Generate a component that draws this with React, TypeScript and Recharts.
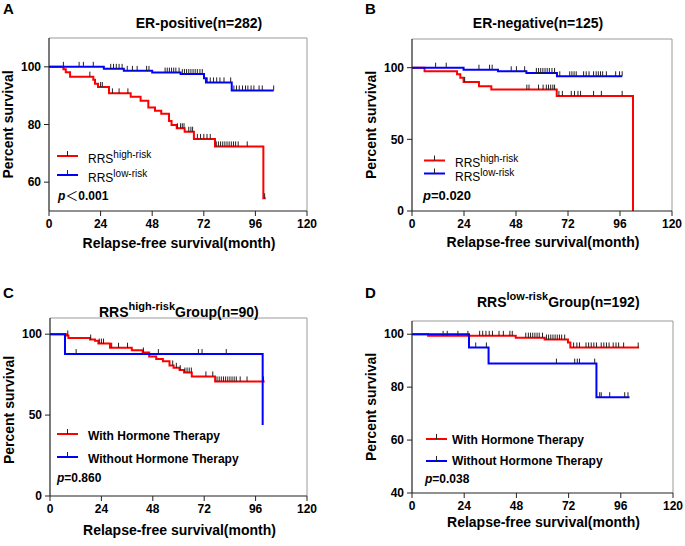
import React from 'react';
import { LineChart, Line, XAxis, YAxis, ReferenceLine, Label } from 'recharts';

type Pt = [number, number];

const X_TICKS = [0, 24, 48, 72, 96, 120];

// ---------- Panel A: ER-positive ----------
const aHighSteps: Pt[] = [[0, 100], [6.7, 99.2], [7.8, 98.1], [9.8, 96.6], [20.6, 95.5], [21.4, 94.1], [22.8, 93.0], [27.9, 90.8], [38, 89.6], [42.6, 88.2], [46.2, 85.9], [49.3, 84.8], [52.2, 83.7], [55.8, 81.2], [57, 79.8], [59.4, 78.7], [63.1, 77.5], [67.4, 75.0], [77.2, 72.4], [99.7, 54.4], [100.8, 54.4]];
const aHighCensor: number[] = [19, 24, 24.8, 29.5, 32.6, 36.7, 59.7, 61.2, 62, 62.8, 65, 66, 66.8, 69, 70.5, 72, 73.5, 75, 77.8, 78.8, 79.8, 80.8, 81.8, 82.8, 83.8, 84.8, 85.8, 86.8, 88, 92.2, 100.3];
const aLowSteps: Pt[] = [[0, 100], [25.5, 99.3], [34.8, 98.6], [48, 98.0], [61.2, 97.5], [72.1, 96.0], [73, 94.6], [85, 91.8], [104.5, 91.8]];
const aLowCensor: number[] = [6.7, 14, 16, 20.6, 28.7, 30, 31.3, 32.6, 34, 36.4, 38.8, 41, 45.4, 46.5, 54, 55, 56, 57, 58, 59, 60.5, 62, 63, 64, 65, 66, 67, 68, 69, 70.2, 71.3, 73.6, 75, 76.5, 78, 79.5, 81.4, 84.5, 86, 87.2, 88.5, 90, 91.4, 92.5, 94, 95.3, 97.7, 99.2, 104.5];
const aYTicks = [60, 80, 100];

// ---------- Panel B: ER-negative ----------
const bHighSteps: Pt[] = [[0, 100], [5.8, 97.5], [20.8, 95.4], [22.3, 93], [23.8, 90], [30.9, 87], [36.6, 84.7], [66.8, 80.3], [102, 0]];
const bHighCensor: number[] = [24.3, 53, 54, 58.4, 60.5, 62, 63, 64, 65, 65.8, 67.8, 69.4, 73.5, 75, 76.6, 77.8, 83.8, 87.4, 97];
const bLowSteps: Pt[] = [[0, 100], [23.8, 98.6], [39.7, 97.5], [52.8, 96.3], [66.9, 94], [97, 94]];
const bLowCensor: number[] = [10.9, 15.8, 30.9, 35.8, 37, 45.8, 48.2, 52, 57.4, 58.4, 59.4, 60.4, 61.4, 62.4, 63.4, 64.6, 65.8, 68.2, 72.8, 73.8, 74.8, 75.8, 79.2, 80.4, 81.7, 83.8, 85, 86, 87, 88, 89.7, 94, 95.8, 97];
const bYTicks = [0, 50, 100];

// ---------- Panel C: RRS high-risk group ----------
const cWithSteps: Pt[] = [[0, 100], [7.8, 99.2], [8.6, 97.7], [18.7, 96.7], [21, 95.9], [22.6, 94.2], [28, 91.6], [38.2, 90.1], [43.3, 88.7], [46.3, 86.2], [49.6, 84.6], [52.7, 83.3], [55.8, 80.7], [57.7, 79.2], [60.5, 77.8], [62.6, 76.3], [66.2, 73.9], [77.1, 70.8], [100.2, 70.8]];
const cWithCensor: number[] = [8.3, 19, 23, 24, 25, 28.8, 32, 36.2, 43.6, 57.3, 59, 60.8, 63, 64, 65, 66, 72.8, 76, 78, 79, 80, 81, 82, 83, 84, 85, 86, 87, 88.8, 92, 99.7];
const cWithoutSteps: Pt[] = [[0, 100], [7, 87.7], [99.3, 43.8]];
const cWithoutCensor: number[] = [12.2, 50.6, 69.3, 71, 82.3];
const cYTicks = [0, 50, 100];

// ---------- Panel D: RRS low-risk group ----------
const dWithSteps: Pt[] = [[0, 100], [7.4, 99.4], [47.7, 98.7], [61, 98], [71.7, 96.9], [72.8, 95], [104.4, 95]];
const dWithCensor: number[] = [14.3, 16.2, 21.1, 25.7, 31.1, 32.5, 34, 35.5, 37, 40, 42, 45, 46.1, 52.3, 53.5, 54.5, 55.5, 56.5, 57.5, 58.5, 60, 61.8, 62.8, 63.8, 64.8, 65.8, 66.8, 67.8, 68.8, 70.2, 74.3, 75.8, 77, 80, 81.2, 82.4, 83.6, 84.8, 87, 88.2, 89.4, 90.6, 92.5, 93.8, 95, 97.3, 104];
const dWithoutSteps: Pt[] = [[0, 100], [26.2, 95], [35.2, 88.9], [84.8, 76.2], [100, 76.2]];
const dWithoutCensor: number[] = [29.3, 34.2, 66.4, 74.8, 76, 77, 84, 86.3, 87, 90.9, 97.8, 99.3];
const dYTicks = [40, 60, 80, 100];

const FONT = '"Liberation Sans", Arial, "Noto Sans CJK SC", sans-serif';
const RED = '#ff0000';
const BLUE = '#0000ff';

type Row = { t: number; s: number; c: boolean };

function buildSeries(steps: Pt[], censor: number[]): Row[] {
  const levelAt = (t: number) => {
    let s = steps[0][1];
    for (const [tt, ss] of steps) if (tt <= t) s = ss;
    return s;
  };
  const rows: Row[] = steps.map(([t, s]) => ({ t, s, c: false }));
  censor.forEach((t) => rows.push({ t, s: levelAt(t), c: true }));
  rows.sort((a, b) => (a.t !== b.t ? a.t - b.t : a.c === b.c ? 0 : a.c ? 1 : -1));
  return rows;
}

const CensorDot = (props: any) => {
  const { cx, cy, payload, index } = props;
  if (!payload || !payload.c || cx == null || cy == null) return <g key={`n${index}`} />;
  return <line key={`c${index}`} x1={cx} x2={cx} y1={cy - 5} y2={cy} stroke="#222" strokeWidth={1} />;
};

type PanelCfg = {
  left: number;
  top: number;
  w: number;
  h: number;
  yDomain: [number, number];
  yTicks: number[];
  series: { data: Row[]; color: string; name: string }[];
  xLabelOff: number;
  yLabelDy: number;
};

const ML = 50;
const MT = 10;
const MR = 10;
const XH = 48;

function Panel({ cfg }: { cfg: PanelCfg }) {
  const width = ML + cfg.w + MR;
  const height = MT + cfg.h + XH;
  const tickStyle = { fontSize: 12, fontWeight: 'bold', fill: '#000', fontFamily: FONT };
  return (
    <div style={{ position: 'absolute', left: cfg.left - ML, top: cfg.top - MT }}>
      <LineChart width={width} height={height} margin={{ top: MT, right: MR, left: 0, bottom: 0 }}>
        <XAxis
          dataKey="t"
          type="number"
          domain={[0, 120]}
          ticks={X_TICKS}
          interval={0}
          allowDataOverflow
          height={XH}
          tickSize={5}
          tickMargin={3}
          tick={tickStyle}
          axisLine={{ stroke: '#222', strokeWidth: 1.2 }}
          tickLine={{ stroke: '#222' }}
        >
          <Label
            content={() => (
              <text
                x={ML + cfg.w / 2 + 1}
                y={MT + cfg.h + cfg.xLabelOff}
                textAnchor="middle"
                fontSize={14}
                fontWeight="bold"
                fill="#000"
                fontFamily={FONT}
              >
                Relapse-free survival(month)
              </text>
            )}
          />
        </XAxis>
        <YAxis
          type="number"
          domain={cfg.yDomain}
          ticks={cfg.yTicks}
          interval={0}
          allowDataOverflow
          width={ML}
          tickSize={5}
          tickMargin={3}
          tick={tickStyle}
          axisLine={{ stroke: '#222', strokeWidth: 1.2 }}
          tickLine={{ stroke: '#222' }}
        >
          <Label
            content={() => {
              const x = ML - 41;
              const y = MT + cfg.h / 2 + cfg.yLabelDy;
              return (
                <text
                  x={x}
                  y={y}
                  transform={`rotate(-90 ${x} ${y})`}
                  textAnchor="middle"
                  dominantBaseline="central"
                  fontSize={14}
                  fontWeight="bold"
                  fill="#000"
                  fontFamily={FONT}
                >
                  Percent survival
                </text>
              );
            }}
          />
        </YAxis>
        <ReferenceLine y={cfg.yDomain[1]} stroke="#9a9a9a" strokeWidth={1} />
        <ReferenceLine x={120} stroke="#9a9a9a" strokeWidth={1} />
        {cfg.series.map((s) => (
          <Line
            key={s.name}
            name={s.name}
            data={s.data}
            dataKey="s"
            type="stepAfter"
            stroke={s.color}
            strokeWidth={2}
            dot={CensorDot}
            activeDot={false}
            isAnimationActive={false}
          />
        ))}
      </LineChart>
    </div>
  );
}

const panels: PanelCfg[] = [
  {
    left: 49, top: 38, w: 258, h: 173, yDomain: [50, 110], yTicks: aYTicks, xLabelOff: 37, yLabelDy: 0,
    series: [
      { name: 'aHigh', data: buildSeries(aHighSteps, aHighCensor), color: RED },
      { name: 'aLow', data: buildSeries(aLowSteps, aLowCensor), color: BLUE },
    ],
  },
  {
    left: 412, top: 39, w: 260, h: 172, yDomain: [0, 120], yTicks: bYTicks, xLabelOff: 36, yLabelDy: 0,
    series: [
      { name: 'bHigh', data: buildSeries(bHighSteps, bHighCensor), color: RED },
      { name: 'bLow', data: buildSeries(bLowSteps, bLowCensor), color: BLUE },
    ],
  },
  {
    left: 50, top: 318, w: 257, h: 178, yDomain: [0, 110], yTicks: cYTicks, xLabelOff: 39, yLabelDy: 3,
    series: [
      { name: 'cWith', data: buildSeries(cWithSteps, cWithCensor), color: RED },
      { name: 'cWithout', data: buildSeries(cWithoutSteps, cWithoutCensor), color: BLUE },
    ],
  },
  {
    left: 412, top: 321, w: 261, h: 172, yDomain: [40, 105], yTicks: dYTicks, xLabelOff: 34, yLabelDy: 0,
    series: [
      { name: 'dWith', data: buildSeries(dWithSteps, dWithCensor), color: RED },
      { name: 'dWithout', data: buildSeries(dWithoutSteps, dWithoutCensor), color: BLUE },
    ],
  },
];

function LegendSample({ x, y, color }: { x: number; y: number; color: string }) {
  return (
    <g>
      <line x1={x} x2={x + 21} y1={y} y2={y} stroke={color} strokeWidth={2} />
      <line x1={x + 10.5} x2={x + 10.5} y1={y - 5} y2={y} stroke="#222" strokeWidth={1} />
    </g>
  );
}

function Overlay() {
  const t = { fontFamily: FONT, fill: '#000' };
  return (
    <svg width={685} height={546} style={{ position: 'absolute', left: 0, top: 0, pointerEvents: 'none' }}>
      {/* panel letters */}
      <text x={3} y={14} fontSize={15} fontWeight="bold" {...t}>A</text>
      <text x={365} y={14} fontSize={15} fontWeight="bold" {...t}>B</text>
      <text x={3} y={297.5} fontSize={15} fontWeight="bold" {...t}>C</text>
      <text x={365} y={297.5} fontSize={15} fontWeight="bold" {...t}>D</text>

      {/* titles */}
      <text x={199} y={27.5} textAnchor="middle" fontSize={14} fontWeight="bold" {...t}>ER-positive(n=282)</text>
      <text x={538} y={27.5} textAnchor="middle" fontSize={14} fontWeight="bold" {...t}>ER-negative(n=125)</text>
      <text x={99} y={317} fontSize={14} fontWeight="bold" {...t}>
        <tspan>RRS</tspan>
        <tspan fontSize={11} dy={-7}>high-risk</tspan>
        <tspan fontSize={14} dy={7}>Group(n=90)</tspan>
      </text>
      <text x={477} y={306.5} fontSize={14} fontWeight="bold" {...t}>
        <tspan>RRS</tspan>
        <tspan fontSize={11} dy={-7}>low-risk</tspan>
        <tspan fontSize={14} dy={7}>Group(n=192)</tspan>
      </text>

      {/* legend A */}
      <LegendSample x={57} y={156} color={RED} />
      <text x={88} y={162.5} fontSize={12} {...t}>
        <tspan>RRS</tspan>
        <tspan fontSize={10} dy={-5}>high-risk</tspan>
      </text>
      <LegendSample x={57} y={175} color={BLUE} />
      <text x={88} y={181.5} fontSize={12} {...t}>
        <tspan>RRS</tspan>
        <tspan fontSize={10} dy={-5}>low-risk</tspan>
      </text>
      <text x={58} y={200} fontSize={12} fontWeight="bold" {...t}>
        <tspan fontStyle="italic">p</tspan>
        <tspan fontWeight="normal" fontSize={13}>＜</tspan>
        <tspan>0.001</tspan>
      </text>

      {/* legend B */}
      <LegendSample x={424} y={160.5} color={RED} />
      <text x={455} y={166.5} fontSize={12} {...t}>
        <tspan>RRS</tspan>
        <tspan fontSize={10} dy={-5}>high-risk</tspan>
      </text>
      <LegendSample x={424} y={173.5} color={BLUE} />
      <text x={455} y={180.5} fontSize={12} {...t}>
        <tspan>RRS</tspan>
        <tspan fontSize={10} dy={-5}>low-risk</tspan>
      </text>
      <text x={423} y={199.5} fontSize={13} fontWeight="bold" {...t}>
        <tspan fontStyle="italic">p</tspan>
        <tspan>=0.020</tspan>
      </text>

      {/* legend C */}
      <LegendSample x={57} y={434} color={RED} />
      <text x={88} y={440} fontSize={12} fontWeight="bold" {...t}>With Hormone Therapy</text>
      <LegendSample x={57} y={457} color={BLUE} />
      <text x={88} y={462.5} fontSize={12} fontWeight="bold" {...t}>Without Hormone Therapy</text>
      <text x={57} y={482} fontSize={12} fontWeight="bold" {...t}>
        <tspan fontStyle="italic">p</tspan>
        <tspan>=0.860</tspan>
      </text>

      {/* legend D */}
      <LegendSample x={426} y={439} color={RED} />
      <text x={452} y={443.5} fontSize={12} fontWeight="bold" {...t}>With Hormone Therapy</text>
      <LegendSample x={426} y={461} color={BLUE} />
      <text x={452} y={465} fontSize={12} fontWeight="bold" {...t}>Without Hormone Therapy</text>
      <text x={425} y={483} fontSize={12} fontWeight="bold" {...t}>
        <tspan fontStyle="italic">p</tspan>
        <tspan>=0.038</tspan>
      </text>
    </svg>
  );
}

export default function App() {
  return (
    <div
      style={{
        position: 'absolute',
        left: 0,
        top: 0,
        width: 685,
        height: 546,
        background: '#fff',
        overflow: 'hidden',
        fontFamily: FONT,
      }}
    >
      {panels.map((p, i) => (
        <Panel key={i} cfg={p} />
      ))}
      <Overlay />
    </div>
  );
}
